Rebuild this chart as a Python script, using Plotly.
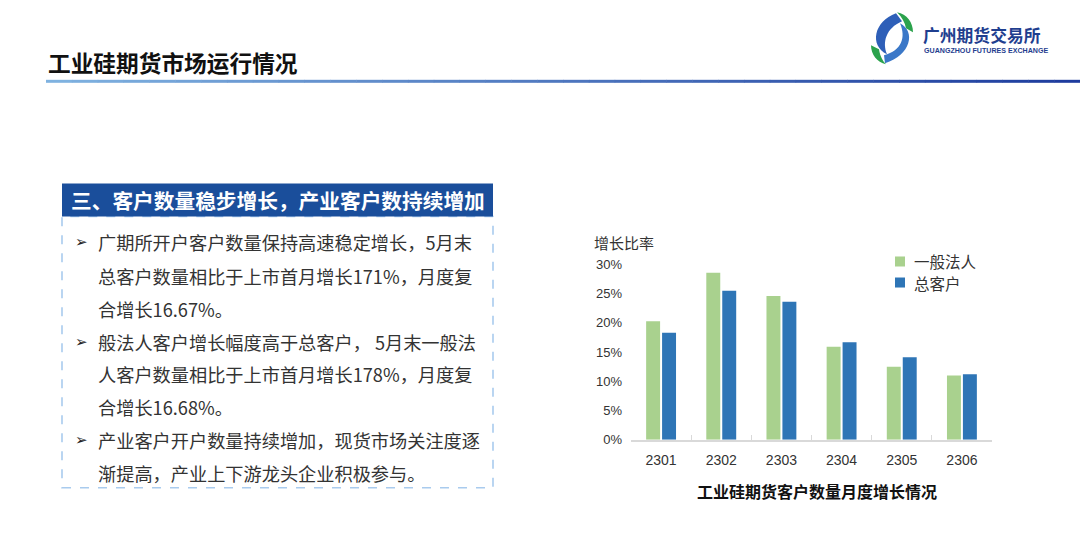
import plotly.graph_objects as go

# ---------------- data ----------------
months = ["2301", "2302", "2303", "2304", "2305", "2306"]
legal_person = [20.3, 28.6, 24.6, 15.9, 12.5, 11.0]   # 一般法人
total_clients = [18.3, 25.5, 23.6, 16.7, 14.1, 11.2]  # 总客户
series_names = ["一般法人", "总客户"]
series_colors = ["#A9D18E", "#2E75B6"]
y_ticks = [0, 5, 10, 15, 20, 25, 30]

page_title = "工业硅期货市场运行情况"
box_title = "三、客户数量稳步增长，产业客户数持续增加"
bullet_lines = [
    (True, "广期所开户客户数量保持高速稳定增长，5月末"),
    (False, "总客户数量相比于上市首月增长171%，月度复"),
    (False, "合增长16.67%。"),
    (True, "般法人客户增长幅度高于总客户， 5月末一般法"),
    (False, "人客户数量相比于上市首月增长178%，月度复"),
    (False, "合增长16.68%。"),
    (True, "产业客户开户数量持续增加，现货市场关注度逐"),
    (False, "渐提高，产业上下游龙头企业积极参与。"),
]
chart_title = "工业硅期货客户数量月度增长情况"
y_title = "增长比率"

W, H = 1080, 542
# the page is photographed with an 8px top offset and a 542/558 vertical scale
TOP = 8
VSCALE = 558 / 542
CJK = "Noto Sans CJK SC"
LAT = "Liberation Sans, Arial"


def px(x):
    return x / W


def py(y):
    return 1 - (y * VSCALE - TOP) / H


fig = go.Figure()
for name, vals, col in zip(series_names, [legal_person, total_clients], series_colors):
    fig.add_trace(go.Bar(x=months, y=vals, name=name, showlegend=False,
                         marker=dict(color=col, line=dict(width=0))))

shapes = []
annotations = []

# header gradient line
x0, x1 = 46, 1080
n = 40
c0 = (127, 178, 224)
c1 = (30, 60, 158)
for i in range(n):
    t = i / (n - 1)
    col = "rgb(%d,%d,%d)" % tuple(int(c0[k] + (c1[k] - c0[k]) * t) for k in range(3))
    xa = x0 + (x1 - x0) * i / n
    xb = x0 + (x1 - x0) * (i + 1) / n + 0.5
    shapes.append(dict(type="rect", xref="paper", yref="paper",
                       x0=px(xa), x1=px(xb), y0=py(83.5), y1=py(80.5),
                       fillcolor=col, line=dict(width=0), layer="above"))

# page title
annotations.append(dict(text="<b>%s</b>" % page_title, x=px(46), y=py(63),
                        xref="paper", yref="paper", xanchor="left", yanchor="middle",
                        showarrow=False, font=dict(family=CJK, size=22.7, color="#111111")))


# logo (approximate swooshes)
def path(points_cmds):
    out = []
    for cmd, pts in points_cmds:
        coords = ["%.5f,%.5f" % (px(x), py(y)) for (x, y) in pts]
        out.append(cmd + " " + " ".join(coords))
    return " ".join(out) + " Z"


blue_left = path([("M", [(896, 14)]),
                  ("C", [(874, 22), (869, 46), (887, 55)]),
                  ("C", [(882, 43), (886, 29), (902, 22)])])
blue_right = path([("M", [(885, 64)]),
                   ("C", [(911, 56), (916, 32), (900, 24)]),
                   ("C", [(906, 38), (902, 51), (884, 56)])])
green_top = path([("M", [(897, 13)]),
                  ("C", [(907, 15), (913, 23), (913, 33)]),
                  ("L", [(906, 29)]),
                  ("C", [(905, 23), (902, 18), (897, 13)])])
green_bot = path([("M", [(886, 65)]),
                  ("C", [(877, 63), (871, 55), (871, 46)]),
                  ("L", [(879, 50)]),
                  ("C", [(880, 57), (883, 62), (886, 65)])])
for p, col in [(blue_left, "#2E5FB8"), (blue_right, "#3B78C8"),
               (green_top, "#2BA24C"), (green_bot, "#2BA24C")]:
    shapes.append(dict(type="path", path=p, xref="paper", yref="paper",
                       fillcolor=col, line=dict(width=0)))

annotations.append(dict(text="<b>广州期货交易所</b>", x=px(921), y=py(36),
                        xref="paper", yref="paper", xanchor="left", yanchor="middle",
                        showarrow=False, font=dict(family=CJK, size=16.8, color="#1F3E8F")))
annotations.append(dict(text="<b>GUANGZHOU FUTURES EXCHANGE</b>", x=px(922), y=py(51.5),
                        xref="paper", yref="paper", xanchor="left", yanchor="middle",
                        showarrow=False, font=dict(family=LAT, size=7.1, color="#1F3E8F")))

# text box
shapes.append(dict(type="rect", xref="paper", yref="paper",
                   x0=px(62), x1=px(493), y0=py(488), y1=py(217),
                   line=dict(color="#A9CBEE", width=1.6, dash="dash"),
                   fillcolor="rgba(0,0,0,0)"))
shapes.append(dict(type="rect", xref="paper", yref="paper",
                   x0=px(62), x1=px(493), y0=py(217), y1=py(184),
                   line=dict(width=0), fillcolor="#1A4E9B"))
annotations.append(dict(text="<b>%s</b>" % box_title, x=px(277.5), y=py(201),
                        xref="paper", yref="paper", xanchor="center", yanchor="middle",
                        showarrow=False, font=dict(family=CJK, size=20.7, color="white")))

line_y = [243, 276, 309, 342, 374, 407, 440, 473]
for (bullet, txt), yy in zip(bullet_lines, line_y):
    if bullet:
        annotations.append(dict(text="➢", x=px(73), y=py(yy), xref="paper", yref="paper",
                                xanchor="left", yanchor="middle", showarrow=False,
                                font=dict(family="DejaVu Sans", size=15, color="#222222")))
    annotations.append(dict(text=txt, x=px(96), y=py(yy), xref="paper", yref="paper",
                            xanchor="left", yanchor="middle", showarrow=False,
                            font=dict(family=CJK, size=18.2, color="#333333")))

# manual legend
for i, (name, col) in enumerate(zip(series_names, series_colors)):
    yy = 262 + 21 * i
    shapes.append(dict(type="rect", xref="paper", yref="paper",
                       x0=px(895), x1=px(905), y0=py(yy + 5), y1=py(yy - 5),
                       fillcolor=col, line=dict(width=0)))
    annotations.append(dict(text=name, x=px(912), y=py(yy), xref="paper", yref="paper",
                            xanchor="left", yanchor="middle", showarrow=False,
                            font=dict(family=CJK, size=15.5, color="#333333")))

# chart labels
annotations.append(dict(text=y_title, x=px(592), y=py(243), xref="paper", yref="paper",
                        xanchor="left", yanchor="middle", showarrow=False,
                        font=dict(family=CJK, size=15, color="#333333")))
annotations.append(dict(text="<b>%s</b>" % chart_title, x=px(817), y=py(491),
                        xref="paper", yref="paper", xanchor="center", yanchor="middle",
                        showarrow=False, font=dict(family=CJK, size=16, color="#111111")))

fig.update_layout(
    width=W, height=H,
    margin=dict(l=0, r=0, t=0, b=0),
    paper_bgcolor="white", plot_bgcolor="white",
    barmode="group", bargap=0.47, bargroupgap=0.125,
    showlegend=False,
    xaxis=dict(domain=[px(631), px(992)], type="category",
               showline=True, linecolor="#D9D9D9", linewidth=1.5,
               ticks="inside", tickson="boundaries", ticklen=5, tickcolor="#D9D9D9",
               tickwidth=1, showgrid=False,
               tickfont=dict(family=LAT, size=14, color="#333333"), ticklabelstandoff=7),
    yaxis=dict(domain=[py(440), py(265)], range=[0, 30], tickvals=y_ticks,
               ticktext=["%d%%" % v for v in y_ticks],
               showgrid=False, zeroline=False, showline=False, ticks="",
               tickfont=dict(family=LAT, size=13, color="#333333"), ticklabelstandoff=8),
    shapes=shapes,
    annotations=annotations,
)

fig.write_html("out.html")
